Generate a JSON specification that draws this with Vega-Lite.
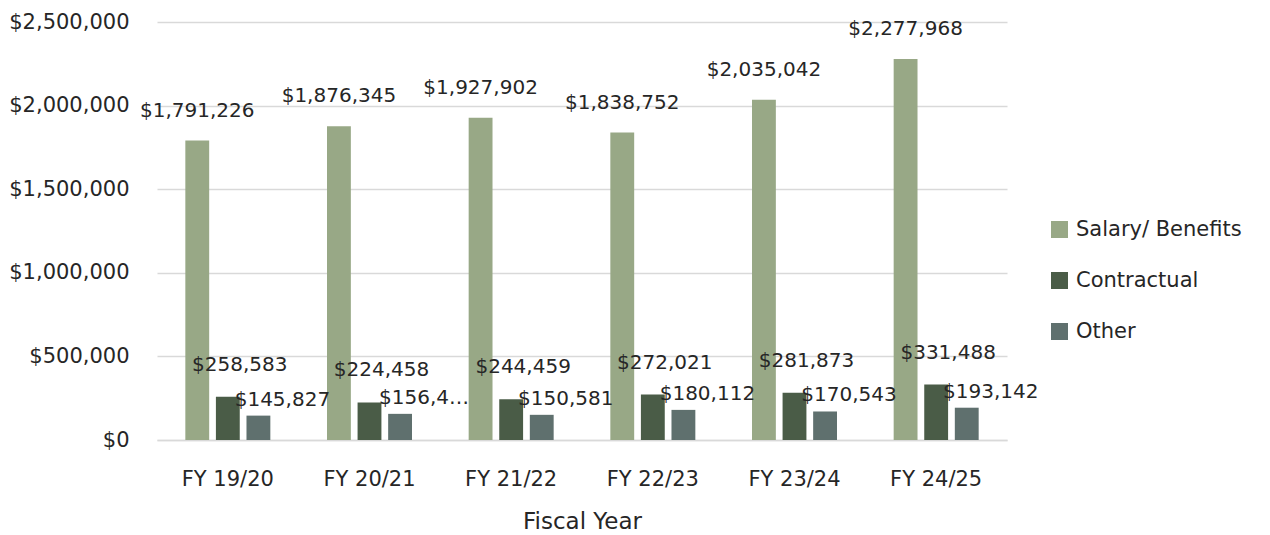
{
  "$schema": "https://vega.github.io/schema/vega-lite/v6.json",
  "width": 850,
  "height": 418,
  "autosize": {"type": "none"},
  "padding": {"left": 157, "top": 22, "right": 263, "bottom": 95},
  "background": "white",
  "config": {
    "font": "DejaVu Sans",
    "view": {"stroke": null},
    "text": {"font": "DejaVu Sans", "fontSize": 20, "color": "#262626"}
  },
  "data": {
    "values": [
      {"year": "FY 19/20", "cat": "Salary/ Benefits", "value": 1791226, "label": "$1,791,226"},
      {"year": "FY 19/20", "cat": "Contractual", "value": 258583, "label": "$258,583"},
      {"year": "FY 19/20", "cat": "Other", "value": 145827, "label": "$145,827"},
      {"year": "FY 20/21", "cat": "Salary/ Benefits", "value": 1876345, "label": "$1,876,345"},
      {"year": "FY 20/21", "cat": "Contractual", "value": 224458, "label": "$224,458"},
      {"year": "FY 20/21", "cat": "Other", "value": 156400, "label": "$156,4…"},
      {"year": "FY 21/22", "cat": "Salary/ Benefits", "value": 1927902, "label": "$1,927,902"},
      {"year": "FY 21/22", "cat": "Contractual", "value": 244459, "label": "$244,459"},
      {"year": "FY 21/22", "cat": "Other", "value": 150581, "label": "$150,581"},
      {"year": "FY 22/23", "cat": "Salary/ Benefits", "value": 1838752, "label": "$1,838,752"},
      {"year": "FY 22/23", "cat": "Contractual", "value": 272021, "label": "$272,021"},
      {"year": "FY 22/23", "cat": "Other", "value": 180112, "label": "$180,112"},
      {"year": "FY 23/24", "cat": "Salary/ Benefits", "value": 2035042, "label": "$2,035,042"},
      {"year": "FY 23/24", "cat": "Contractual", "value": 281873, "label": "$281,873"},
      {"year": "FY 23/24", "cat": "Other", "value": 170543, "label": "$170,543"},
      {"year": "FY 24/25", "cat": "Salary/ Benefits", "value": 2277968, "label": "$2,277,968"},
      {"year": "FY 24/25", "cat": "Contractual", "value": 331488, "label": "$331,488"},
      {"year": "FY 24/25", "cat": "Other", "value": 193142, "label": "$193,142"}
    ]
  },
  "encoding": {
    "x": {
      "field": "year", "type": "nominal", "sort": null,
      "scale": {"paddingInner": 0.4, "paddingOuter": 0.2},
      "axis": {
        "title": "Fiscal Year", "titleFont": "DejaVu Sans", "titleFontSize": 23, "titleFontWeight": "normal",
        "titleColor": "#262626", "titlePadding": 21,
        "labelAngle": 0, "labelFont": "DejaVu Sans", "labelFontSize": 21, "labelColor": "#262626",
        "labelPadding": 28, "ticks": false, "domainColor": "#d9d9d9", "domainWidth": 1.5
      }
    },
    "xOffset": {
      "field": "cat", "type": "nominal",
      "sort": ["Salary/ Benefits", "Contractual", "Other"],
      "scale": {"paddingInner": 0.22}
    },
    "y": {
      "field": "value", "type": "quantitative",
      "scale": {"domain": [0, 2500000], "nice": false},
      "axis": {
        "title": null, "format": "$,.0f", "values": [0, 500000, 1000000, 1500000, 2000000, 2500000],
        "labelOverlap": false,
        "labelFont": "DejaVu Sans", "labelFontSize": 21, "labelColor": "#262626", "labelPadding": 28,
        "ticks": false, "domain": false, "gridColor": "#d9d9d9", "gridWidth": 1.5
      }
    }
  },
  "layer": [
    {
      "mark": {"type": "bar"},
      "encoding": {
        "color": {
          "field": "cat", "type": "nominal",
          "sort": ["Salary/ Benefits", "Contractual", "Other"],
          "scale": {"domain": ["Salary/ Benefits", "Contractual", "Other"], "range": ["#98a886", "#4a5c47", "#5f706e"]},
          "legend": {
            "title": null, "orient": "none", "legendX": 892, "legendY": 197,
            "symbolType": "square", "symbolSize": 289, "symbolStrokeWidth": 0, "symbolOpacity": 1,
            "labelFont": "DejaVu Sans", "labelFontSize": 21, "labelColor": "#262626", "labelLimit": 400,
            "rowPadding": 29, "labelOffset": 6, "padding": 0
          }
        }
      }
    },
    {
      "transform": [{"filter": "datum.cat === 'Salary/ Benefits'"}],
      "mark": {"type": "text", "baseline": "middle", "align": "center", "dy": -30},
      "encoding": {"text": {"field": "label"}}
    },
    {
      "transform": [{"filter": "datum.cat === 'Contractual'"}],
      "mark": {"type": "text", "baseline": "middle", "align": "center", "dx": 12, "dy": -32},
      "encoding": {"text": {"field": "label"}}
    },
    {
      "transform": [{"filter": "datum.cat === 'Other'"}],
      "mark": {"type": "text", "baseline": "middle", "align": "center", "dx": 24, "dy": -16},
      "encoding": {"text": {"field": "label"}}
    }
  ]
}
